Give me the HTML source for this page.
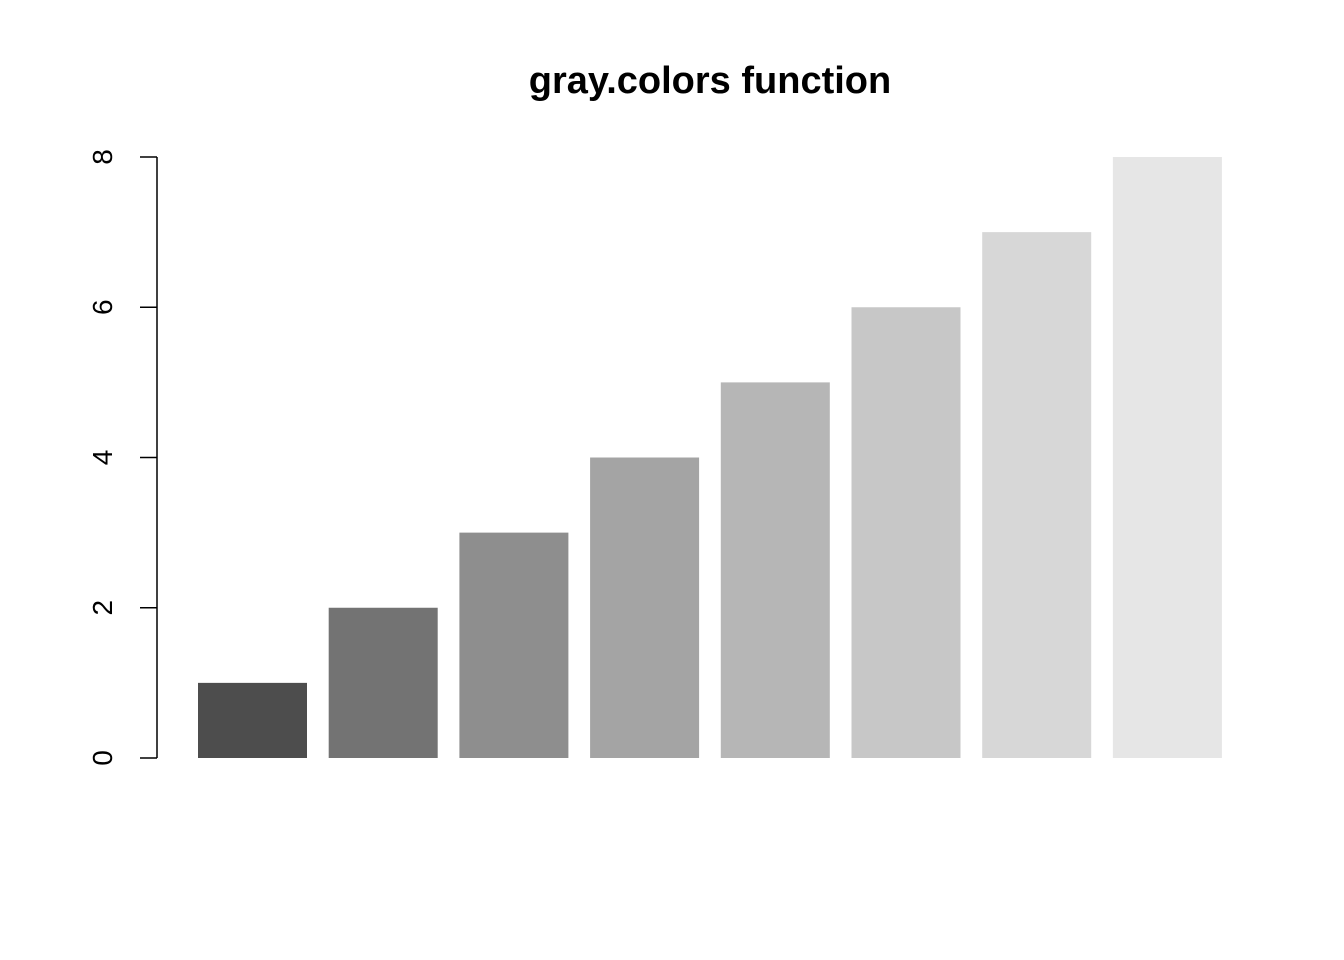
<!DOCTYPE html>
<html><head><meta charset="utf-8"><style>
html,body{margin:0;padding:0;background:#fff;}
svg{display:block;font-family:"Liberation Sans",sans-serif;}
</style></head><body>
<svg id="chart" width="1344" height="960" viewBox="0 0 1344 960">
<text x="710" y="93" text-anchor="middle" font-size="38" font-weight="bold">gray.colors function</text>
<g id="bars"></g>
<g id="yaxis"></g>
</svg>
<script>
const categories = ["1","2","3","4","5","6","7","8"];
const values = [1,2,3,4,5,6,7,8];
const colors = ["#4D4D4D","#737373","#8E8E8E","#A4A4A4","#B6B6B6","#C7C7C7","#D7D7D7","#E6E6E6"];
const yTicks = [0,2,4,6,8];

const NS = "http://www.w3.org/2000/svg";
const y0 = 758, y1 = 157, yMax = 8;
function yScale(v){ return y0 - (v / yMax) * (y0 - y1); }
const step = 130.7, bw = 109, x0 = 198;
function xScale(i){ return x0 + i * step; }

const bars = document.getElementById('bars');
values.forEach((v, i) => {
  const r = document.createElementNS(NS, 'rect');
  r.setAttribute('x', xScale(i));
  r.setAttribute('y', yScale(v));
  r.setAttribute('width', bw);
  r.setAttribute('height', y0 - yScale(v));
  r.setAttribute('fill', colors[i]);
  
  
  bars.appendChild(r);
});

const ax = document.getElementById('yaxis');
const line = document.createElementNS(NS, 'line');
line.setAttribute('x1', 157); line.setAttribute('x2', 157);
line.setAttribute('y1', yScale(yTicks[0])); line.setAttribute('y2', yScale(yTicks[yTicks.length-1]));
line.setAttribute('stroke', '#000'); line.setAttribute('stroke-width', 1.5);


ax.appendChild(line);
yTicks.forEach(t => {
  const y = yScale(t);
  const tk = document.createElementNS(NS, 'line');
  tk.setAttribute('x1', 140); tk.setAttribute('x2', 157);
  tk.setAttribute('y1', y); tk.setAttribute('y2', y);
  tk.setAttribute('stroke', '#000'); tk.setAttribute('stroke-width', 1.5);
  
  
  ax.appendChild(tk);
  const lb = document.createElementNS(NS, 'text');
  lb.setAttribute('x', 0); lb.setAttribute('y', 0);
  lb.setAttribute('transform', 'translate(112,' + y + ') rotate(-90)');
  lb.setAttribute('text-anchor', 'middle');
  lb.setAttribute('font-size', '28');
  lb.textContent = t;
  
  
  ax.appendChild(lb);
});
</script>
</body></html>
